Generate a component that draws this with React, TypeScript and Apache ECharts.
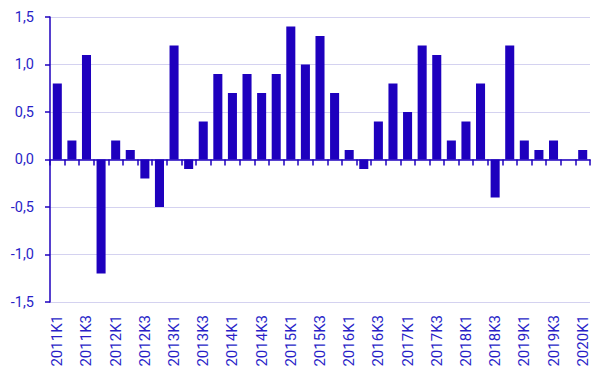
import React, { useEffect, useRef } from "react";
import * as echarts from "echarts";

const categories: string[] = [
  "2011K1", "2011K2", "2011K3", "2011K4",
  "2012K1", "2012K2", "2012K3", "2012K4",
  "2013K1", "2013K2", "2013K3", "2013K4",
  "2014K1", "2014K2", "2014K3", "2014K4",
  "2015K1", "2015K2", "2015K3", "2015K4",
  "2016K1", "2016K2", "2016K3", "2016K4",
  "2017K1", "2017K2", "2017K3", "2017K4",
  "2018K1", "2018K2", "2018K3", "2018K4",
  "2019K1", "2019K2", "2019K3", "2019K4",
  "2020K1",
];

const values: number[] = [
  0.8, 0.2, 1.1, -1.2,
  0.2, 0.1, -0.2, -0.5,
  1.2, -0.1, 0.4, 0.9,
  0.7, 0.9, 0.7, 0.9,
  1.4, 1.0, 1.3, 0.7,
  0.1, -0.1, 0.4, 0.8,
  0.5, 1.2, 1.1, 0.2,
  0.4, 0.8, -0.4, 1.2,
  0.2, 0.1, 0.2, 0.0,
  0.1,
];

const yMin = -1.5;
const yMax = 1.5;
const yStep = 0.5;

const BLUE = "#1e00be";
const TEXT = "#2a1fc8";
const GRID = "#d4d2f0";

export default function App() {
  const ref = useRef<HTMLDivElement>(null);
  useEffect(() => {
    document.body.style.margin = "0";
    if (!ref.current) return;
    const chart = echarts.init(ref.current, null, { renderer: "svg" });
    chart.setOption({
      animation: false,
      grid: { left: 50, right: 15, top: 17, bottom: 76, containLabel: false },
      xAxis: [
        {
          type: "category",
          data: categories,
          boundaryGap: true,
          axisLine: { show: true, onZero: true, lineStyle: { color: BLUE, width: 1.5 } },
          axisTick: { show: true, length: 6, interval: 0, lineStyle: { color: BLUE, width: 1.5 } },
          axisLabel: { show: false },
          splitLine: { show: false },
        },
        {
          type: "category",
          data: categories,
          position: "bottom",
          boundaryGap: true,
          axisLine: { show: false, onZero: false },
          axisTick: { show: false },
          axisLabel: {
            show: true,
            interval: 1,
            rotate: 90,
            margin: 13,
            color: TEXT,
            fontFamily: "Roboto",
            fontSize: 15,
          },
        },
      ],
      yAxis: {
        type: "value",
        min: yMin,
        max: yMax,
        interval: yStep,
        axisLine: { show: true, lineStyle: { color: BLUE, width: 1.5 } },
        axisTick: { show: true, length: 5, lineStyle: { color: BLUE, width: 1.5 } },
        axisLabel: {
          color: TEXT,
          fontFamily: "Roboto",
          fontSize: 14.5,
          margin: 16,
          formatter: (v: number) => v.toFixed(1).replace(".", ","),
        },
        splitLine: { show: true, lineStyle: { color: GRID, width: 1 } },
      },
      series: [
        {
          type: "bar",
          xAxisIndex: 0,
          data: values,
          barCategoryGap: "38%",
          itemStyle: { color: BLUE },
        },
      ],
    });
    return () => chart.dispose();
  }, []);
  return <div ref={ref} style={{ width: 605, height: 378 }} />;
}
